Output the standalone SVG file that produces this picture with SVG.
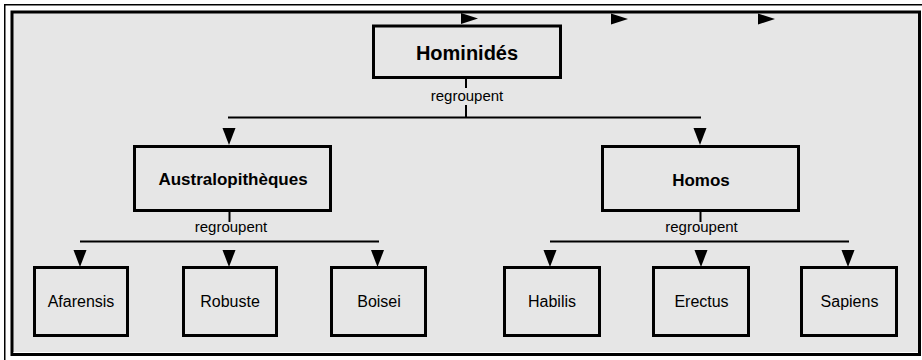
<svg xmlns="http://www.w3.org/2000/svg" width="922" height="360" viewBox="0 0 922 360">
<style>
.box{fill:#e6e6e6;stroke:#000;stroke-width:3}
text{font-family:"Liberation Sans",Arial,Helvetica,sans-serif;fill:#000;text-anchor:middle}
.t1{font-weight:bold;font-size:20px}
.t2{font-weight:bold;font-size:17px}
.t3{font-size:16px}
.lbl{font-size:15px}
.ln{stroke:#000;stroke-width:2;fill:none}
.arr{fill:#000}
</style>
<defs>
<path id="ad" d="M-6.5,0 L6.5,0 L0,17 Z"/>
<path id="ar" d="M0,-5.5 L17,0 L0,5.5 Z"/>
</defs>
<g id="frame">
<rect x="4.75" y="4.75" width="930" height="370" fill="#fff" stroke="#000" stroke-width="1.5"/>
<rect x="12" y="12" width="907.5" height="342.5" fill="#e6e6e6" stroke="#000" stroke-width="3"/>
<line x1="13.5" y1="352.5" x2="918" y2="352.5" stroke="#fff" stroke-width="1"/>
</g>
<g id="connectors">
<line class="ln" x1="466" y1="79" x2="466" y2="88"/>
<text class="lbl" x="467" y="100.5">regroupent</text>
<line class="ln" x1="466" y1="105" x2="466" y2="117.5"/>
<line class="ln" x1="228" y1="117.5" x2="701" y2="117.5"/>
<use href="#ad" class="arr" x="229" y="128"/>
<use href="#ad" class="arr" x="700" y="128"/>
<line class="ln" x1="229.5" y1="212" x2="229.5" y2="222"/>
<text class="lbl" x="231" y="232">regroupent</text>
<line class="ln" x1="80" y1="241.5" x2="379" y2="241.5"/>
<use href="#ad" class="arr" x="80" y="250"/>
<use href="#ad" class="arr" x="229" y="250"/>
<use href="#ad" class="arr" x="377.5" y="250"/>
<line class="ln" x1="700.5" y1="212" x2="700.5" y2="222"/>
<text class="lbl" x="701.5" y="232">regroupent</text>
<line class="ln" x1="550" y1="241.5" x2="849" y2="241.5"/>
<use href="#ad" class="arr" x="550" y="250"/>
<use href="#ad" class="arr" x="701" y="250"/>
<use href="#ad" class="arr" x="848" y="250"/>
<use href="#ar" class="arr" x="461" y="18.5"/>
<use href="#ar" class="arr" x="611" y="19"/>
<use href="#ar" class="arr" x="758" y="19"/>
</g>
<g id="hominides">
<rect class="box" x="373.5" y="26" width="187" height="51.5"/>
<text class="t1" x="467" y="60">Hominidés</text>
</g>
<g id="australopitheques">
<rect class="box" x="134.5" y="146.5" width="196" height="64"/>
<text class="t2" x="233" y="185">Australopithèques</text>
</g>
<g id="homos">
<rect class="box" x="602.5" y="146.5" width="196" height="64"/>
<text class="t2" x="701" y="186">Homos</text>
</g>
<g id="afarensis">
<rect class="box" x="34.5" y="267.5" width="93" height="68"/>
<text class="t3" x="81" y="307">Afarensis</text>
</g>
<g id="robuste">
<rect class="box" x="183.5" y="267.5" width="93" height="68"/>
<text class="t3" x="230" y="307">Robuste</text>
</g>
<g id="boisei">
<rect class="box" x="331.5" y="267.5" width="94" height="68"/>
<text class="t3" x="379" y="307">Boisei</text>
</g>
<g id="habilis">
<rect class="box" x="504.5" y="267.5" width="95" height="68"/>
<text class="t3" x="552" y="307">Habilis</text>
</g>
<g id="erectus">
<rect class="box" x="653.5" y="267.5" width="95" height="68"/>
<text class="t3" x="701.5" y="307">Erectus</text>
</g>
<g id="sapiens">
<rect class="box" x="801.5" y="267.5" width="95" height="68"/>
<text class="t3" x="849.5" y="307">Sapiens</text>
</g>
</svg>
